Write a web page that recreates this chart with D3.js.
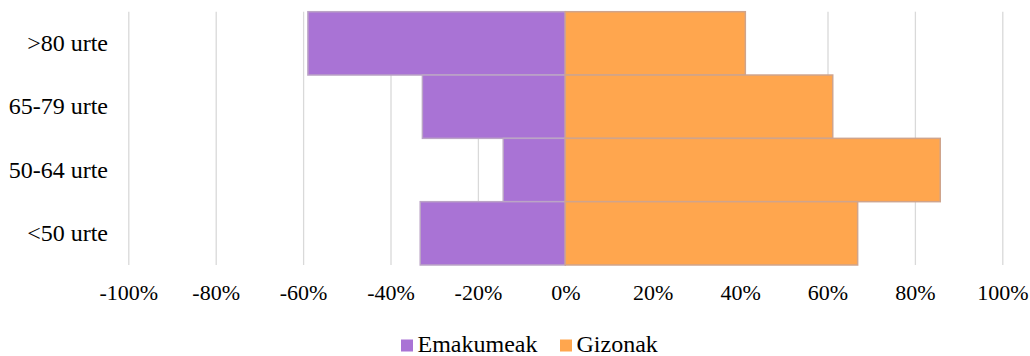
<!DOCTYPE html>
<html lang="eu">
<head>
  <meta charset="UTF-8" />
  <title>Emakumeak / Gizonak</title>
  <script src="https://d3js.org/d3.v7.min.js"></script>
  <style>
    body { margin: 0; background: #fff; }
  </style>
</head>
<body>
  <div id="chart"></div>
  <script>
    // data
    var categories = [">80 urte", "65-79 urte", "50-64 urte", "<50 urte"];
    var emakumeak = [-0.589, -0.327, -0.142, -0.332];
    var gizonak = [0.412, 0.612, 0.858, 0.669];
    var tickValues = [-1, -0.8, -0.6, -0.4, -0.2, 0, 0.2, 0.4, 0.6, 0.8, 1];
    var seriesNames = ["Emakumeak", "Gizonak"];

    var w = 1030;
    var h = 356;
    var serif = "Liberation Serif";

    var svg = d3.select("#chart").append("svg")
      .attr("width", w)
      .attr("height", h);

    var x = d3.scaleLinear()
      .domain([-1, 1])
      .range([128.3, 1002.3]);

    var y = d3.scaleBand()
      .domain(categories)
      .range([11.7, 265])
      .padding(0);

    // gridlines
    svg.append("g")
      .attr("class", "grid")
      .attr("transform", "translate(0,265)")
      .call(d3.axisBottom(x).tickValues(tickValues).tickSize(-(265 - 11.7)).tickFormat(""))
      .call(function(g) { g.select(".domain").remove(); })
      .selectAll("line")
      .attr("stroke", "#d9d9d9")
      .attr("stroke-width", 1.3);

    var rows = categories.map(function(c, i) {
      return { cat: c, em: emakumeak[i], gi: gizonak[i] };
    });

    svg.selectAll("rect.em")
      .data(rows)
      .enter()
      .append("rect")
      .attr("class", "em")
      .attr("x", function(d) { return x(d.em); })
      .attr("y", function(d) { return y(d.cat); })
      .attr("width", function(d) { return x(0) - x(d.em); })
      .attr("height", y.bandwidth())
      .attr("fill", "#a973d5")
      .attr("stroke", "#bba4c6")
      .attr("stroke-width", 1.5);

    svg.selectAll("rect.gi")
      .data(rows)
      .enter()
      .append("rect")
      .attr("class", "gi")
      .attr("x", x(0))
      .attr("y", function(d) { return y(d.cat); })
      .attr("width", function(d) { return x(d.gi) - x(0); })
      .attr("height", y.bandwidth())
      .attr("fill", "#ffa64e")
      .attr("stroke", "#cfa48c")
      .attr("stroke-width", 1.5);

    // x tick labels
    svg.append("g")
      .attr("transform", "translate(0,300)")
      .attr("font-family", serif)
      .call(d3.axisBottom(x).tickValues(tickValues).tickSize(0).tickPadding(0)
        .tickFormat(function(d) { return Math.round(d * 100) + "%"; }))
      .call(function(g) { g.select(".domain").remove(); })
      .selectAll("text")
      .attr("dy", 0)
      .attr("fill", "#000")
      .attr("font-family", serif)
      .attr("font-size", 22);

    // y labels
    svg.append("g")
      .attr("transform", "translate(108,0)")
      .attr("font-family", serif)
      .call(d3.axisLeft(y).tickSize(0).tickPadding(0))
      .call(function(g) { g.select(".domain").remove(); })
      .selectAll("text")
      .attr("fill", "#000")
      .attr("font-family", serif)
      .attr("font-size", 24);

    // legend
    var legend = svg.append("g");
    var legendX = [401, 560];
    var legendColors = ["#a973d5", "#ffa64e"];
    seriesNames.forEach(function(name, i) {
      legend.append("rect")
        .attr("x", legendX[i])
        .attr("y", 339.5)
        .attr("width", 12)
        .attr("height", 12)
        .attr("fill", legendColors[i]);
      legend.append("text")
        .attr("x", legendX[i] + 16.5)
        .attr("y", 352)
        .attr("fill", "#000")
        .attr("font-family", serif)
        .attr("font-size", 24)
        .text(name);
    });
  </script>
</body>
</html>
